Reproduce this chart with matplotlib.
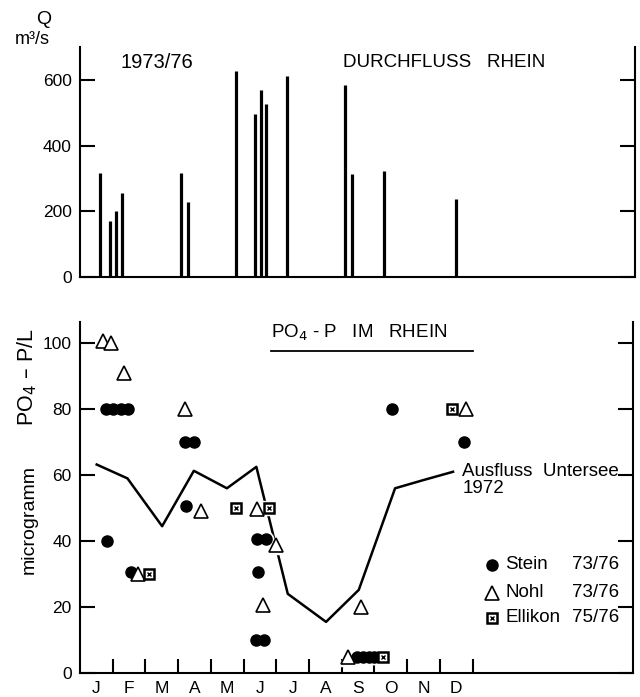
import numpy as np
import matplotlib.pyplot as plt

plt.rcParams['font.family'] = ['Liberation Sans', 'DejaVu Sans']

# Durchfluss Rhein (month position, Q in m3/s)
flow_month = [0.61, 0.91, 1.09, 1.28, 3.07, 3.30, 4.76, 5.34, 5.51, 5.66, 6.31, 8.08, 8.29, 9.27, 11.45]
flow_q = [317, 171, 202, 257, 317, 229, 627, 495, 569, 527, 612, 585, 314, 324, 237]

# PO4-P samples (microgramm/L)
stein_month = [0.79, 1.01, 1.25, 1.48, 0.84, 1.55, 3.22, 3.48, 3.25, 5.40, 5.68, 5.45,
               5.39, 5.61, 9.55, 8.48, 8.66, 8.84, 9.00, 11.74]
stein_val = [80, 80, 80, 80, 40, 30.5, 70, 70, 50.5, 40.5, 40.5, 30.5,
             10, 10, 80, 5, 5, 5, 5, 70]
nohl_month = [0.69, 0.95, 1.35, 1.78, 3.22, 3.69, 5.41, 6.00, 5.59, 8.18, 8.59, 11.79]
nohl_val = [100.7, 99.9, 91, 30, 80, 49, 49.7, 38.8, 20.5, 5, 20, 80]
ellikon_month = [2.10, 4.78, 5.79, 9.25, 11.38]
ellikon_val = [30, 50, 50, 5, 80]

# Ausfluss Untersee 1972
unt_month = [0.51, 1.45, 2.51, 3.48, 4.49, 5.39, 6.35, 7.52, 8.52, 9.63, 10.5, 11.4]
unt_val = [63.2, 59, 44.5, 61.3, 56, 62.5, 24, 15.5, 25.2, 56, 58.5, 61]

months = ['J', 'F', 'M', 'A', 'M', 'J', 'J', 'A', 'S', 'O', 'N', 'D']
legend_names = ['Stein', 'Nohl', 'Ellikon']
legend_years = ['73/76', '73/76', '75/76']

XMAX = 16.9
LW = 1.5

fig = plt.figure(figsize=(6.4, 6.97), dpi=100)

# ---- top panel: discharge ----
ax1 = fig.add_axes([0.125, 0.6026, 0.867, 0.33])
ax1.vlines(flow_month, 0, flow_q, color='black', linewidth=2.3)
ax1.set_xlim(0, XMAX)
ax1.set_ylim(0, 700)
ax1.set_yticks([0, 200, 400, 600])
ax1.set_xticks([])
ax1.spines['top'].set_visible(False)
for s in ['left', 'right', 'bottom']:
    ax1.spines[s].set_linewidth(LW)
ax1.tick_params(axis='y', direction='in', length=11, width=LW, right=True,
                labelsize=12.5, pad=6)
ax1.text(1.22, 654, '1973/76', fontsize=14.5, va='center', ha='left')
ax1.text(8.02, 654, 'DURCHFLUSS   RHEIN', fontsize=13.5, va='center', ha='left')
fig.text(44 / 640, 1 - 20 / 697, 'Q', fontsize=14, ha='center', va='center')
fig.text(32 / 640, 1 - 39 / 697, 'm³/s', fontsize=13, ha='center', va='center')

# ---- bottom panel: PO4-P ----
ax2 = fig.add_axes([0.125, 0.0344, 0.864, 0.5036])
ax2.plot(unt_month, unt_val, color='black', linewidth=1.8, zorder=2)

# white halos so the line breaks under the markers
ax2.plot(stein_month, stein_val, 'o', ms=10.5, color='white', zorder=3)
ax2.plot(nohl_month, nohl_val, '^', ms=12.5, color='white', zorder=3)
ax2.plot(ellikon_month, ellikon_val, 's', ms=10, color='white', zorder=3)

ax2.plot(stein_month, stein_val, 'o', ms=8, color='black', zorder=4)
ax2.plot(nohl_month, nohl_val, '^', ms=9.5, mfc='white', mec='black', mew=1.2, zorder=4)
ax2.plot(ellikon_month, ellikon_val, 's', ms=7, mfc='white', mec='black', mew=1.8, zorder=4)
ax2.plot(ellikon_month, ellikon_val, 'x', ms=3, color='black', mew=1, zorder=5)

ax2.set_xlim(0, XMAX)
ax2.set_ylim(0, 106.4)
ax2.set_yticks([0, 20, 40, 60, 80, 100])
ax2.set_xticks(np.arange(1, 13))
ax2.set_xticklabels([])
ax2.set_xticks(np.arange(12) + 0.5, minor=True)
ax2.set_xticklabels(months, minor=True)
ax2.tick_params(axis='x', which='major', direction='in', length=10, width=LW)
ax2.tick_params(axis='x', which='minor', length=0, labelsize=12.5, pad=6)
ax2.tick_params(axis='y', direction='in', length=11, width=LW, right=True,
                labelsize=12.5, pad=6)
ax2.spines['top'].set_visible(False)
for s in ['left', 'right', 'bottom']:
    ax2.spines[s].set_linewidth(LW)

ax2.text(5.84, 103, 'PO$_4$ - P   IM   RHEIN', fontsize=13.5, ha='left', va='center')
ax2.plot([5.84, 12.0], [97.7, 97.7], color='black', linewidth=1.3, clip_on=False)

ax2.text(11.68, 58.6, 'Ausfluss  Untersee\n1972', fontsize=13.5, ha='left',
         va='center', linespacing=1.0)

# legend
leg_y = [0.308, 0.228, 0.157]
ax2.plot(0.745, leg_y[0], 'o', ms=8, color='black', transform=ax2.transAxes)
ax2.plot(0.745, leg_y[1], '^', ms=9.5, mfc='white', mec='black', mew=1.2,
         transform=ax2.transAxes)
ax2.plot(0.745, leg_y[2], 's', ms=7, mfc='white', mec='black', mew=1.8,
         transform=ax2.transAxes)
ax2.plot(0.745, leg_y[2], 'x', ms=3, color='black', mew=1, transform=ax2.transAxes)
for name, yr, yy in zip(legend_names, legend_years, leg_y):
    ax2.text(0.769, yy, name, fontsize=13.5, ha='left', va='center', transform=ax2.transAxes)
    ax2.text(0.89, yy, yr, fontsize=13.5, ha='left', va='center', transform=ax2.transAxes)

fig.text(29 / 640, 1 - 520 / 697, 'microgramm', rotation=90, fontsize=14,
         ha='center', va='center')
fig.text(27 / 640, 1 - 377 / 697, 'PO$_4$ – P/L', rotation=90, fontsize=15.5,
         ha='center', va='center')

fig.savefig('out.png', dpi=100)
